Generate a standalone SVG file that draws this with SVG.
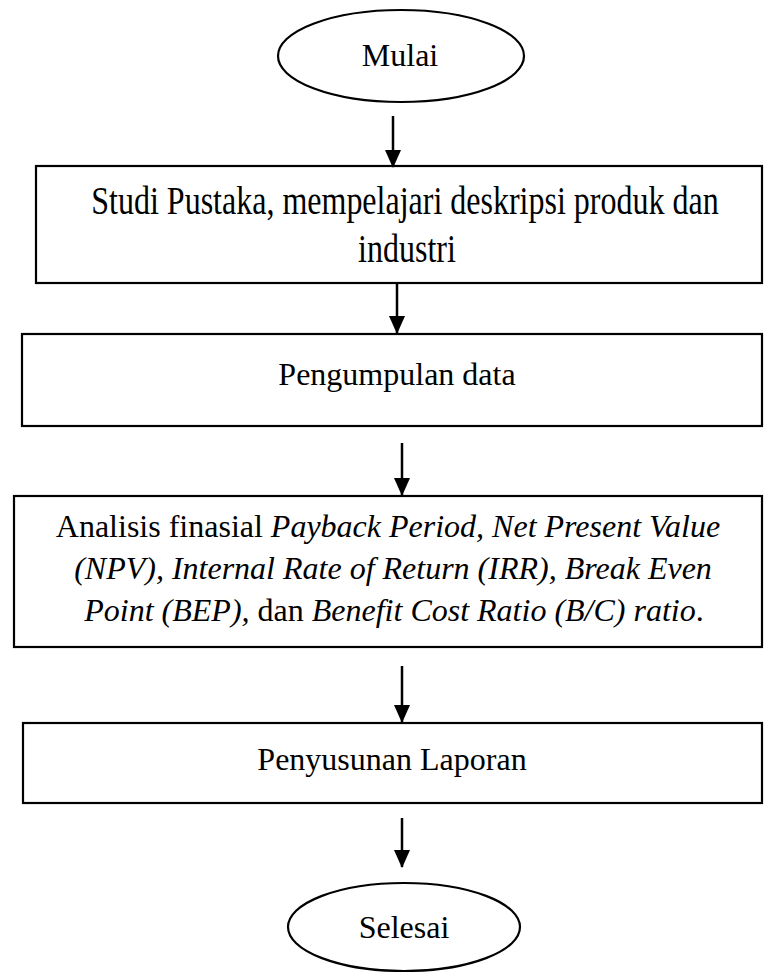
<svg xmlns="http://www.w3.org/2000/svg" width="764" height="972" viewBox="0 0 764 972">
<style>
.shape{fill:#fff;stroke:#000;stroke-width:2.2}
.t{font-family:"Liberation Serif","Times New Roman",serif;font-size:32px;fill:#000;text-anchor:middle}
.i{font-style:italic}
.c{stroke:#000;stroke-width:2.5;fill:none}
</style>
<defs>
<marker id="ah" markerUnits="userSpaceOnUse" markerWidth="18" markerHeight="22" refX="17" refY="8" orient="auto" viewBox="0 0 18 16">
<path d="M0,0 L18,8 L0,16 Z" fill="#000"/>
</marker>
</defs>
<rect width="764" height="972" fill="#fff"/>
<g id="mulai">
<ellipse class="shape" cx="401" cy="56" rx="123" ry="46"/>
<text class="t" x="400" y="66">Mulai</text>
</g>
<g id="studi">
<rect class="shape" x="36" y="166" width="726" height="117"/>
<text class="t" x="405" y="0" transform="translate(0,214) scale(1,1.25)">Studi Pustaka, mempelajari deskripsi produk dan</text>
<text class="t" x="407" y="0" transform="translate(0,262) scale(1,1.25)">industri</text>
</g>
<g id="pengumpulan">
<rect class="shape" x="22" y="334" width="740" height="92"/>
<text class="t" x="397" y="385">Pengumpulan data</text>
</g>
<g id="analisis">
<rect class="shape" x="14" y="496" width="748" height="151"/>
<text class="t" x="388" y="537">Analisis finasial <tspan class="i">Payback Period, Net Present Value</tspan></text>
<text class="t i" x="393" y="579">(NPV), Internal Rate of Return (IRR), Break Even</text>
<text class="t" x="394" y="621"><tspan class="i">Point (BEP),</tspan> dan <tspan class="i">Benefit Cost Ratio (B/C) ratio</tspan>.</text>
</g>
<g id="penyusunan">
<rect class="shape" x="23" y="723" width="739" height="80"/>
<text class="t" x="392" y="770">Penyusunan Laporan</text>
</g>
<g id="selesai">
<ellipse class="shape" cx="404" cy="927" rx="116" ry="44"/>
<text class="t" x="404" y="938">Selesai</text>
</g>
<g id="connectors">
<line class="c" x1="393" y1="116" x2="393" y2="167" marker-end="url(#ah)"/>
<line class="c" x1="397" y1="283" x2="397" y2="333" marker-end="url(#ah)"/>
<line class="c" x1="402" y1="443" x2="402" y2="495" marker-end="url(#ah)"/>
<line class="c" x1="402" y1="666" x2="402" y2="722" marker-end="url(#ah)"/>
<line class="c" x1="402" y1="818" x2="402" y2="867" marker-end="url(#ah)"/>
</g>
</svg>
